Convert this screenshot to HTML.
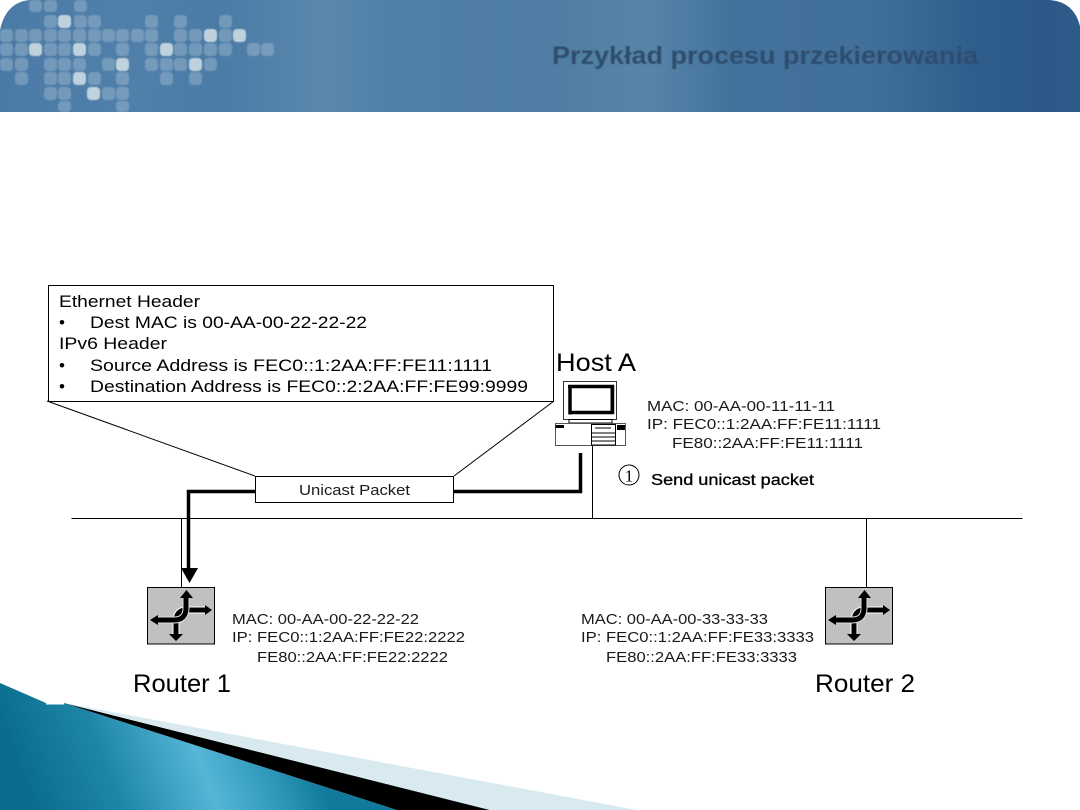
<!DOCTYPE html>
<html><head><meta charset="utf-8"><style>
html,body{margin:0;padding:0;background:#fff;width:1080px;height:810px;overflow:hidden}
svg{display:block}
text{font-family:"Liberation Sans",sans-serif;fill:#000;white-space:pre}
.s{font-size:17px}.m{font-size:14.5px;fill:#1a1a1a}.b{font-size:25px}
</style></head><body>
<svg width="1080" height="810" viewBox="0 0 1080 810" xmlns="http://www.w3.org/2000/svg">
<defs>
<linearGradient id="h" x1="0" x2="1" y1="0" y2="0">
<stop offset="0" stop-color="#4a7aa6"/><stop offset=".12" stop-color="#5080aa"/><stop offset=".2" stop-color="#4a7ba6"/><stop offset=".3" stop-color="#5a88ac"/><stop offset=".36" stop-color="#5080a8"/><stop offset=".5" stop-color="#4f7da3"/><stop offset=".6" stop-color="#5785a8"/><stop offset=".68" stop-color="#42719b"/><stop offset=".8" stop-color="#41709a"/><stop offset=".9" stop-color="#2f5e8c"/><stop offset=".97" stop-color="#2b5888"/><stop offset="1" stop-color="#2e5c8a"/>
</linearGradient>
<linearGradient id="t" gradientUnits="userSpaceOnUse" x1="30" y1="800" x2="290" y2="700">
<stop offset="0" stop-color="#0a6c8d"/><stop offset=".3" stop-color="#1d86a8"/><stop offset=".62" stop-color="#55b6d6"/><stop offset=".85" stop-color="#2b96b8"/><stop offset="1" stop-color="#117a9c"/>
</linearGradient>
<filter id="soft" x="-5%" y="-20%" width="110%" height="140%"><feGaussianBlur stdDeviation=".6"/></filter>
</defs>
<path d="M0 112V30Q6 2 30 0H1050Q1074 2 1080 26V112Z" fill="url(#h)"/>
<g filter="url(#soft)">
<g fill="#a9c2d4" fill-opacity=".42">
<rect x="29" y="0" width="13" height="12" rx="4"/><rect x="44" y="0" width="13" height="12" rx="4"/><rect x="74" y="0" width="13" height="12" rx="4"/>
<rect x="44" y="15" width="13" height="13" rx="4"/><rect x="74" y="15" width="13" height="13" rx="4"/><rect x="88" y="15" width="13" height="13" rx="4"/><rect x="145" y="15" width="13" height="13" rx="4"/><rect x="174" y="15" width="13" height="13" rx="4"/><rect x="219" y="15" width="13" height="13" rx="4"/>
<rect x="0" y="29" width="13" height="13" rx="4"/><rect x="15" y="29" width="13" height="13" rx="4"/><rect x="29" y="29" width="13" height="13" rx="4"/><rect x="44" y="29" width="13" height="13" rx="4"/><rect x="58" y="29" width="13" height="13" rx="4"/><rect x="73" y="29" width="13" height="13" rx="4"/><rect x="88" y="29" width="13" height="13" rx="4"/><rect x="102" y="29" width="13" height="13" rx="4"/><rect x="116" y="29" width="13" height="13" rx="4"/><rect x="131" y="29" width="13" height="13" rx="4"/><rect x="145" y="29" width="13" height="13" rx="4"/><rect x="174" y="29" width="13" height="13" rx="4"/><rect x="189" y="29" width="13" height="13" rx="4"/><rect x="219" y="29" width="13" height="13" rx="4"/>
<rect x="0" y="43" width="13" height="13" rx="4"/><rect x="15" y="43" width="13" height="13" rx="4"/><rect x="44" y="43" width="13" height="13" rx="4"/><rect x="58" y="43" width="13" height="13" rx="4"/><rect x="88" y="43" width="13" height="13" rx="4"/><rect x="116" y="43" width="13" height="13" rx="4"/><rect x="145" y="43" width="13" height="13" rx="4"/><rect x="174" y="43" width="13" height="13" rx="4"/><rect x="189" y="43" width="13" height="13" rx="4"/><rect x="204" y="43" width="13" height="13" rx="4"/><rect x="219" y="43" width="13" height="13" rx="4"/><rect x="247" y="43" width="13" height="13" rx="4"/><rect x="261" y="43" width="13" height="13" rx="4"/>
<rect x="0" y="58" width="13" height="13" rx="4"/><rect x="15" y="58" width="13" height="13" rx="4"/><rect x="44" y="58" width="13" height="13" rx="4"/><rect x="58" y="58" width="13" height="13" rx="4"/><rect x="73" y="58" width="13" height="13" rx="4"/><rect x="102" y="58" width="13" height="13" rx="4"/><rect x="145" y="58" width="13" height="13" rx="4"/><rect x="160" y="58" width="13" height="13" rx="4"/><rect x="174" y="58" width="13" height="13" rx="4"/><rect x="204" y="58" width="13" height="13" rx="4"/>
<rect x="15" y="72" width="13" height="13" rx="4"/><rect x="44" y="72" width="13" height="13" rx="4"/><rect x="58" y="72" width="13" height="13" rx="4"/><rect x="88" y="72" width="13" height="13" rx="4"/><rect x="116" y="72" width="13" height="13" rx="4"/><rect x="160" y="72" width="13" height="13" rx="4"/><rect x="189" y="72" width="13" height="13" rx="4"/>
<rect x="44" y="87" width="13" height="13" rx="4"/><rect x="58" y="87" width="13" height="13" rx="4"/><rect x="102" y="87" width="13" height="13" rx="4"/><rect x="116" y="87" width="13" height="13" rx="4"/>
<rect x="58" y="101" width="13" height="11" rx="4"/><rect x="116" y="101" width="13" height="11" rx="4"/>
</g>
<g fill="#d3e0e6" fill-opacity=".85">
<rect x="58" y="15" width="13" height="13" rx="4"/><rect x="204" y="29" width="13" height="13" rx="4"/><rect x="233" y="29" width="13" height="13" rx="4"/><rect x="29" y="43" width="13" height="13" rx="4"/><rect x="73" y="43" width="13" height="13" rx="4"/><rect x="160" y="43" width="13" height="13" rx="4"/><rect x="116" y="58" width="13" height="13" rx="4"/><rect x="189" y="58" width="13" height="13" rx="4"/><rect x="73" y="72" width="13" height="13" rx="4"/><rect x="87" y="87" width="13" height="13" rx="4"/>
</g>
</g>
<text x="552" y="64" font-size="25" font-weight="bold" style="fill:#2f4d6d" textLength="426" lengthAdjust="spacingAndGlyphs" filter="url(#soft)">Przykład procesu przekierowania</text>

<path d="M0 683L46 703H64L397 810H0Z" fill="url(#t)"/>
<path d="M64 703L490 810H397Z" fill="#000"/>
<path d="M64 703L637 810H490Z" fill="#d9e9f0"/>
<rect x="46" y="702" width="18" height="2.500" fill="#fff"/>

<g fill="none" stroke="#000" stroke-width="1">
<path d="M71.500 518.500H1022.500"/>
<path d="M592.500 445V518"/>
<path d="M181.500 518V587"/>
<path d="M866.500 518V587"/>
<path d="M48.500 285.500H553.500V401.500H48.500Z" fill="#fff"/>
<path d="M47 401L255 476"/><path d="M554 401L454 476"/>
<rect x="255.500" y="476.500" width="198" height="26" fill="#fff"/>
</g>
<g fill="none" stroke="#000" stroke-width="3.500">
<path d="M255 491.500H188.500V570"/>
<path d="M454 491.500H580.500V453"/>
</g>
<path d="M181 568H198L189.500 583Z" fill="#000"/>

<g font-size="17">
<text class="s" x="59" y="307" textLength="141" lengthAdjust="spacingAndGlyphs">Ethernet Header</text>
<text class="s" x="59" y="328">•</text>
<text class="s" x="90" y="328" textLength="277" lengthAdjust="spacingAndGlyphs">Dest MAC is 00-AA-00-22-22-22</text>
<text class="s" x="59" y="349" textLength="108" lengthAdjust="spacingAndGlyphs">IPv6 Header</text>
<text class="s" x="59" y="371">•</text>
<text class="s" x="90" y="371" textLength="402" lengthAdjust="spacingAndGlyphs">Source Address is FEC0::1:2AA:FF:FE11:1111</text>
<text class="s" x="59" y="392">•</text>
<text class="s" x="90" y="392" textLength="438" lengthAdjust="spacingAndGlyphs">Destination Address is FEC0::2:2AA:FF:FE99:9999</text>
</g>
<text class="m" x="299" y="495" textLength="111" lengthAdjust="spacingAndGlyphs">Unicast Packet</text>

<text class="b" x="556" y="371" textLength="80" lengthAdjust="spacingAndGlyphs">Host A</text>
<text class="m" x="647" y="411" textLength="188" lengthAdjust="spacingAndGlyphs">MAC: 00-AA-00-11-11-11</text>
<text class="m" x="647" y="429" textLength="234" lengthAdjust="spacingAndGlyphs">IP: FEC0::1:2AA:FF:FE11:1111</text>
<text class="m" x="672" y="448" textLength="191" lengthAdjust="spacingAndGlyphs">FE80::2AA:FF:FE11:1111</text>
<circle cx="629" cy="475" r="10" fill="none" stroke="#000" stroke-width="1"/>
<text x="629" y="481.500" font-size="17" text-anchor="middle" style="font-family:'Liberation Serif',serif">1</text>
<text x="651" y="485" font-size="15.500" textLength="163" lengthAdjust="spacingAndGlyphs" stroke="#000" stroke-width=".3">Send unicast packet</text>

<!-- Host computer -->
<g fill="none" stroke="#000">
<rect x="563.500" y="381.500" width="53" height="38" fill="#fff" stroke="#333"/>
<path d="M568 386.500H612.500V412.500H570" stroke-width="3.500"/>
<path d="M570 385V414.500" stroke-width="3.500"/>
<path d="M611.500 414V388" stroke-width="2"/>
<path d="M569 419.500H612V423H569Z" fill="#fff" stroke-width="1"/>
<rect x="555.500" y="423.500" width="70" height="22" fill="#fff" stroke="#555"/>
<path d="M555.500 426.500H564" stroke-width="3"/>
<rect x="591.500" y="424.500" width="24" height="20.500" fill="#fff"/>
<path d="M595 428H611M592 433H615M592 437H615M592 441H615" stroke-width="1"/>
<rect x="617.500" y="425.500" width="7" height="4" fill="#000"/>
</g>

<!-- Routers -->
<g id="r1">
<rect x="147.500" y="587.500" width="67" height="56.500" fill="#c0c0c0" stroke="#000"/>
<path d="M176 636V622Q176 610 186 610H207" fill="none" stroke="#fff" stroke-width="7"/>
<path d="M176 636V622Q176 610 186 610H207" fill="none" stroke="#000" stroke-width="5"/>
<path d="M186 596V608Q186 620 174 620H157" fill="none" stroke="#ddd" stroke-width="7"/>
<path d="M186 596V608Q186 620 174 620H157" fill="none" stroke="#000" stroke-width="5"/>
<path d="M186.500 590L193 598H180Z M150 620L158 615V625Z M212 610L205 605V615Z M176 641L169 634H183Z" fill="#000"/>
</g>
<g transform="translate(678 0)">
<rect x="147.500" y="587.500" width="67" height="56.500" fill="#c0c0c0" stroke="#000"/>
<path d="M176 636V622Q176 610 186 610H207" fill="none" stroke="#fff" stroke-width="7"/>
<path d="M176 636V622Q176 610 186 610H207" fill="none" stroke="#000" stroke-width="5"/>
<path d="M186 596V608Q186 620 174 620H157" fill="none" stroke="#ddd" stroke-width="7"/>
<path d="M186 596V608Q186 620 174 620H157" fill="none" stroke="#000" stroke-width="5"/>
<path d="M186.500 590L193 598H180Z M150 620L158 615V625Z M212 610L205 605V615Z M176 641L169 634H183Z" fill="#000"/>
</g>

<text class="m" x="232" y="624" textLength="187" lengthAdjust="spacingAndGlyphs">MAC: 00-AA-00-22-22-22</text>
<text class="m" x="232" y="642" textLength="233" lengthAdjust="spacingAndGlyphs">IP: FEC0::1:2AA:FF:FE22:2222</text>
<text class="m" x="257" y="662" textLength="191" lengthAdjust="spacingAndGlyphs">FE80::2AA:FF:FE22:2222</text>
<text class="m" x="581" y="624" textLength="187" lengthAdjust="spacingAndGlyphs">MAC: 00-AA-00-33-33-33</text>
<text class="m" x="581" y="642" textLength="233" lengthAdjust="spacingAndGlyphs">IP: FEC0::1:2AA:FF:FE33:3333</text>
<text class="m" x="606" y="662" textLength="191" lengthAdjust="spacingAndGlyphs">FE80::2AA:FF:FE33:3333</text>
<text class="b" x="133" y="692" textLength="98" lengthAdjust="spacingAndGlyphs">Router 1</text>
<text class="b" x="815" y="692" textLength="100" lengthAdjust="spacingAndGlyphs">Router 2</text>
</svg>
</body></html>
